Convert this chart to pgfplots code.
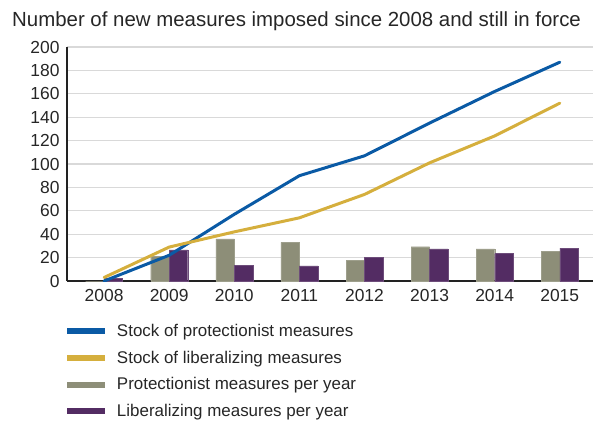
\documentclass[border=0pt]{standalone}
\usepackage{pgfplots}
\pgfplotsset{compat=1.18}
\usepackage{fontspec}
\setmainfont{Liberation Sans}
\definecolor{cBlue}{HTML}{0A5AA5}
\definecolor{cYellow}{HTML}{D5AF3D}
\definecolor{cGrey}{HTML}{8D8E78}
\definecolor{cPurple}{HTML}{532C63}
\definecolor{cGrid}{HTML}{D9D9D9}
\definecolor{cAxis}{HTML}{222222}
\begin{document}
\begin{tikzpicture}
\begin{axis}[
  name=ax,
  scale only axis,
  width=526bp, height=234bp,
  xmin=2007.43, xmax=2015.51,
  ymin=0, ymax=200,
  axis x line=bottom, axis y line=left,
  axis line style={-, cAxis, line width=1.8bp},
  xtick={2008,...,2015},
  ytick={0,20,...,200},
  major tick length=0pt,
  ymajorgrids,
  grid style={cGrid, line width=1.3bp},
  x tick label style={/pgf/number format/1000 sep={}},
  /pgf/number format/assume math mode=true,
  ticklabel style={font=\fontsize{17.5}{20}\selectfont, text=black!85},
  xticklabel style={yshift=-5bp},
  yticklabel style={xshift=-4bp},
  legend style={at={(0,-0.18)}, anchor=north west, draw=none, fill=none,
    font=\fontsize{17}{20}\selectfont, text=black!85, row sep=11bp,
    inner sep=0pt, outer sep=0pt,
    nodes={inner xsep=3bp, inner ysep=1bp}},
  legend cell align=left,
]
% bars
\addplot[ybar, bar width=18.5bp, bar shift=-9.25bp, fill=cGrey, draw=cGrey!85!white, forget plot]
  coordinates {(2008,0) (2009,21) (2010,36) (2011,33) (2012,17.4) (2013,29.3) (2014,27.4) (2015,25.4)};
\addplot[ybar, bar width=18.5bp, bar shift=9.25bp, fill=cPurple, draw=cPurple!85!white, forget plot]
  coordinates {(2008,2.5) (2009,26.5) (2010,13.4) (2011,13) (2012,20.3) (2013,27.4) (2014,23.4) (2015,28.2)};
% lines
\addplot[cBlue, line width=3bp, line cap=round, forget plot]
  coordinates {(2008,0) (2009,22) (2010,57) (2011,90) (2012,107) (2013,135) (2014,162) (2015,187)};
\addplot[cYellow, line width=3bp, line cap=round, forget plot]
  coordinates {(2008,3) (2009,29) (2010,42) (2011,54) (2012,74) (2013,101) (2014,124) (2015,152)};
\addlegendimage{legend image code/.code={\fill[cBlue, draw=none] (0bp,-3bp) rectangle (38bp,3bp); \path[draw=none, fill=none] (0bp,0bp) -- (47bp,0bp);}}
\addlegendentry{Stock of protectionist measures}
\addlegendimage{legend image code/.code={\fill[cYellow, draw=none] (0bp,-3bp) rectangle (38bp,3bp); \path[draw=none, fill=none] (0bp,0bp) -- (47bp,0bp);}}
\addlegendentry{Stock of liberalizing measures}
\addlegendimage{legend image code/.code={\fill[cGrey, draw=none] (0bp,-3bp) rectangle (38bp,3bp); \path[draw=none, fill=none] (0bp,0bp) -- (47bp,0bp);}}
\addlegendentry{Protectionist measures per year}
\addlegendimage{legend image code/.code={\fill[cPurple, draw=none] (0bp,-3bp) rectangle (38bp,3bp); \path[draw=none, fill=none] (0bp,0bp) -- (47bp,0bp);}}
\addlegendentry{Liberalizing measures per year}
\end{axis}
\node[anchor=base west, inner sep=0pt, font=\fontsize{20.5}{24}\selectfont, text=black!85]
  at ([xshift=-55bp, yshift=20bp]ax.north west) {Number of new measures imposed since 2008 and still in force};
\pgfresetboundingbox
\path[use as bounding box] ([xshift=-67bp, yshift=-140bp]ax.south west) rectangle ([xshift=535bp, yshift=281bp]ax.south west);
\end{tikzpicture}
\end{document}
